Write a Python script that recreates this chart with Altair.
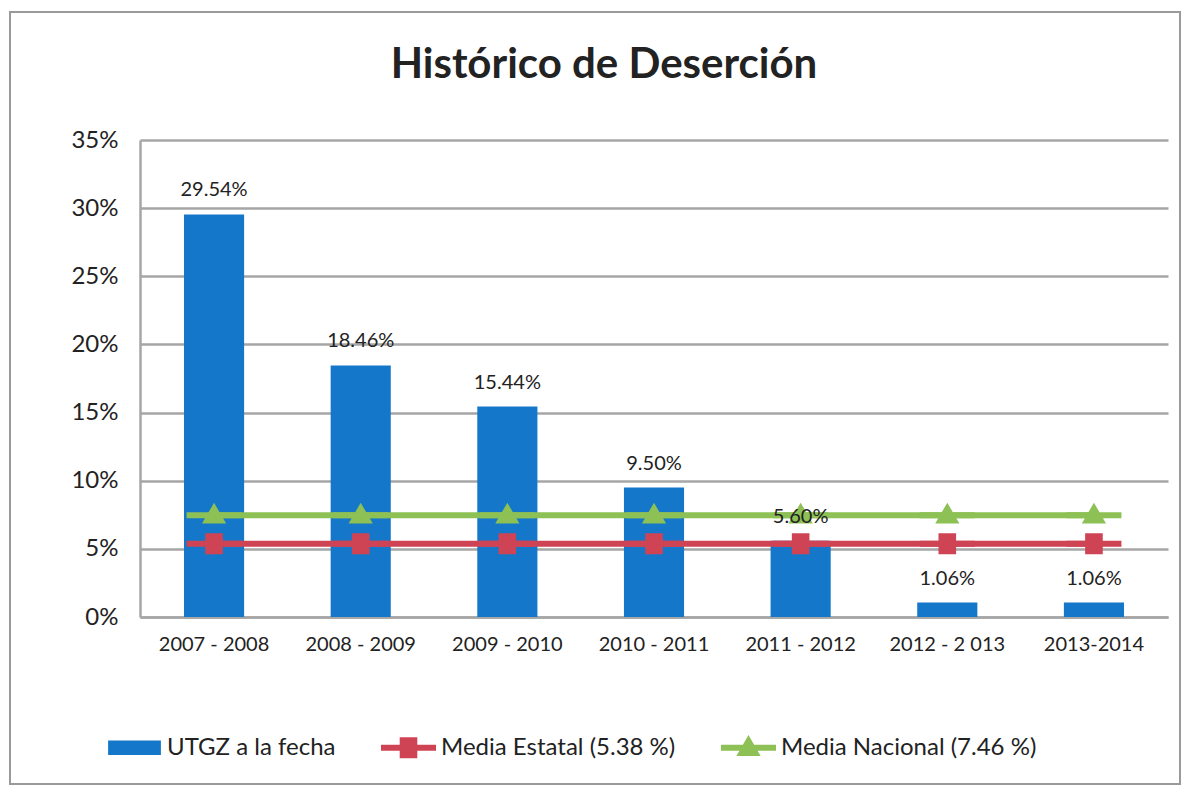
import altair as alt
import pandas as pd

categories = ["2007  - 2008", "2008  - 2009", "2009 - 2010", "2010 - 2011",
              "2011 - 2012", "2012 - 2 013", "2013-2014"]
utgz = [0.2954, 0.1846, 0.1544, 0.0950, 0.0560, 0.0106, 0.0106]
estatal = [0.0538, 0.0538, 0.0538, 0.0538, 0.0538, 0.0538, 0.0538]
nacional = [0.0746, 0.0746, 0.0746, 0.0746, 0.0746, 0.0746, 0.0746]
series = ["UTGZ a la fecha", "Media Estatal (5.38 %)", "Media Nacional (7.46 %)"]
colors = ["#1477C9", "#CF4454", "#8DC055"]
title_text = "Histórico de Deserción"

# legend / marker symbol paths (unit = sqrt(size)/2)
shapes = [
    "M-0.96,-0.26H0.96V0.26H-0.96Z",
    "M-1,-0.11H1V0.11H-1Z M-0.32,-0.38H0.32V0.38H-0.32Z",
    "M-1,-0.11H1V0.11H-1Z M0,-0.46L0.44,0.3H-0.44Z",
]

bars_df = pd.DataFrame({"cat": categories, "value": utgz})
lines_df = pd.DataFrame({
    "cat": categories * 2,
    "serie": [series[1]] * len(categories) + [series[2]] * len(categories),
    "value": estatal + nacional,
})

xenc = alt.X("cat:N", sort=categories, title=None,
             scale=alt.Scale(paddingInner=0.59, paddingOuter=0.3),
             axis=alt.Axis(labelAngle=0, labelPadding=17, labelFontSize=20,
                           labelColor="#222", ticks=False, domain=True,
                           domainColor="#A6A6A6", domainWidth=2.5))
yenc = alt.Y("value:Q", title=None,
             scale=alt.Scale(domain=[0, 0.35], nice=False),
             axis=alt.Axis(format=".0%", values=[0, 0.05, 0.1, 0.15, 0.2, 0.25, 0.3, 0.35],
                           labelFontSize=24, labelColor="#222", labelPadding=22,
                           ticks=False, domainColor="#A6A6A6", domainWidth=2.5,
                           gridColor="#A6A6A6", gridWidth=2.5))

legend = alt.Legend(orient="none", legendX=-33, legendY=580, direction="horizontal",
                    title=None, labelFontSize=24, labelColor="#222", labelOffset=5,
                    labelLimit=0, columnPadding=45, symbolSize=3025,
                    symbolStrokeWidth=0, symbolOpacity=1)
color = alt.Color("serie:N", scale=alt.Scale(domain=series, range=colors), legend=legend)
shape = alt.Shape("serie:N", scale=alt.Scale(domain=series, range=shapes), legend=legend)

bars = alt.Chart(bars_df).mark_bar(color="#1477C9").encode(x=xenc, y=yenc)
labels = alt.Chart(bars_df).mark_text(baseline="bottom", dy=-14, fontSize=20,
                                      color="#222").encode(
    x=alt.X("cat:N", sort=categories), y="value:Q",
    text=alt.Text("value:Q", format=".2%"))
lines = alt.Chart(lines_df).mark_line(strokeWidth=6).encode(
    x=alt.X("cat:N", sort=categories), y="value:Q", color=color)
points = alt.Chart(lines_df).mark_point(filled=True, opacity=1, size=3025).encode(
    x=alt.X("cat:N", sort=categories), y="value:Q", color=color, shape=shape)
title = alt.Chart(alt.Data(values=[{"t": title_text}])).mark_text(
    fontSize=42, fontWeight="bold", color="#222", baseline="alphabetic", align="center").encode(
    x=alt.value(464), y=alt.value(-62), text="t:N")
frame = alt.Chart(alt.Data(values=[{}])).mark_rect(
    fillOpacity=0, stroke="#9A9A9A", strokeWidth=2).encode(
    x=alt.value(-130), x2=alt.value(1040), y=alt.value(-128), y2=alt.value(644))

chart = alt.layer(bars, lines, points, labels, title, frame).properties(
    width=1028, height=477,
    autosize=alt.AutoSizeParams(type="none"),
    padding={"left": 132, "top": 132, "right": 14, "bottom": 170},
).configure(font="Lato").configure_view(stroke=None)

chart.save("out.html", embed_options={"renderer": "svg", "actions": False})
